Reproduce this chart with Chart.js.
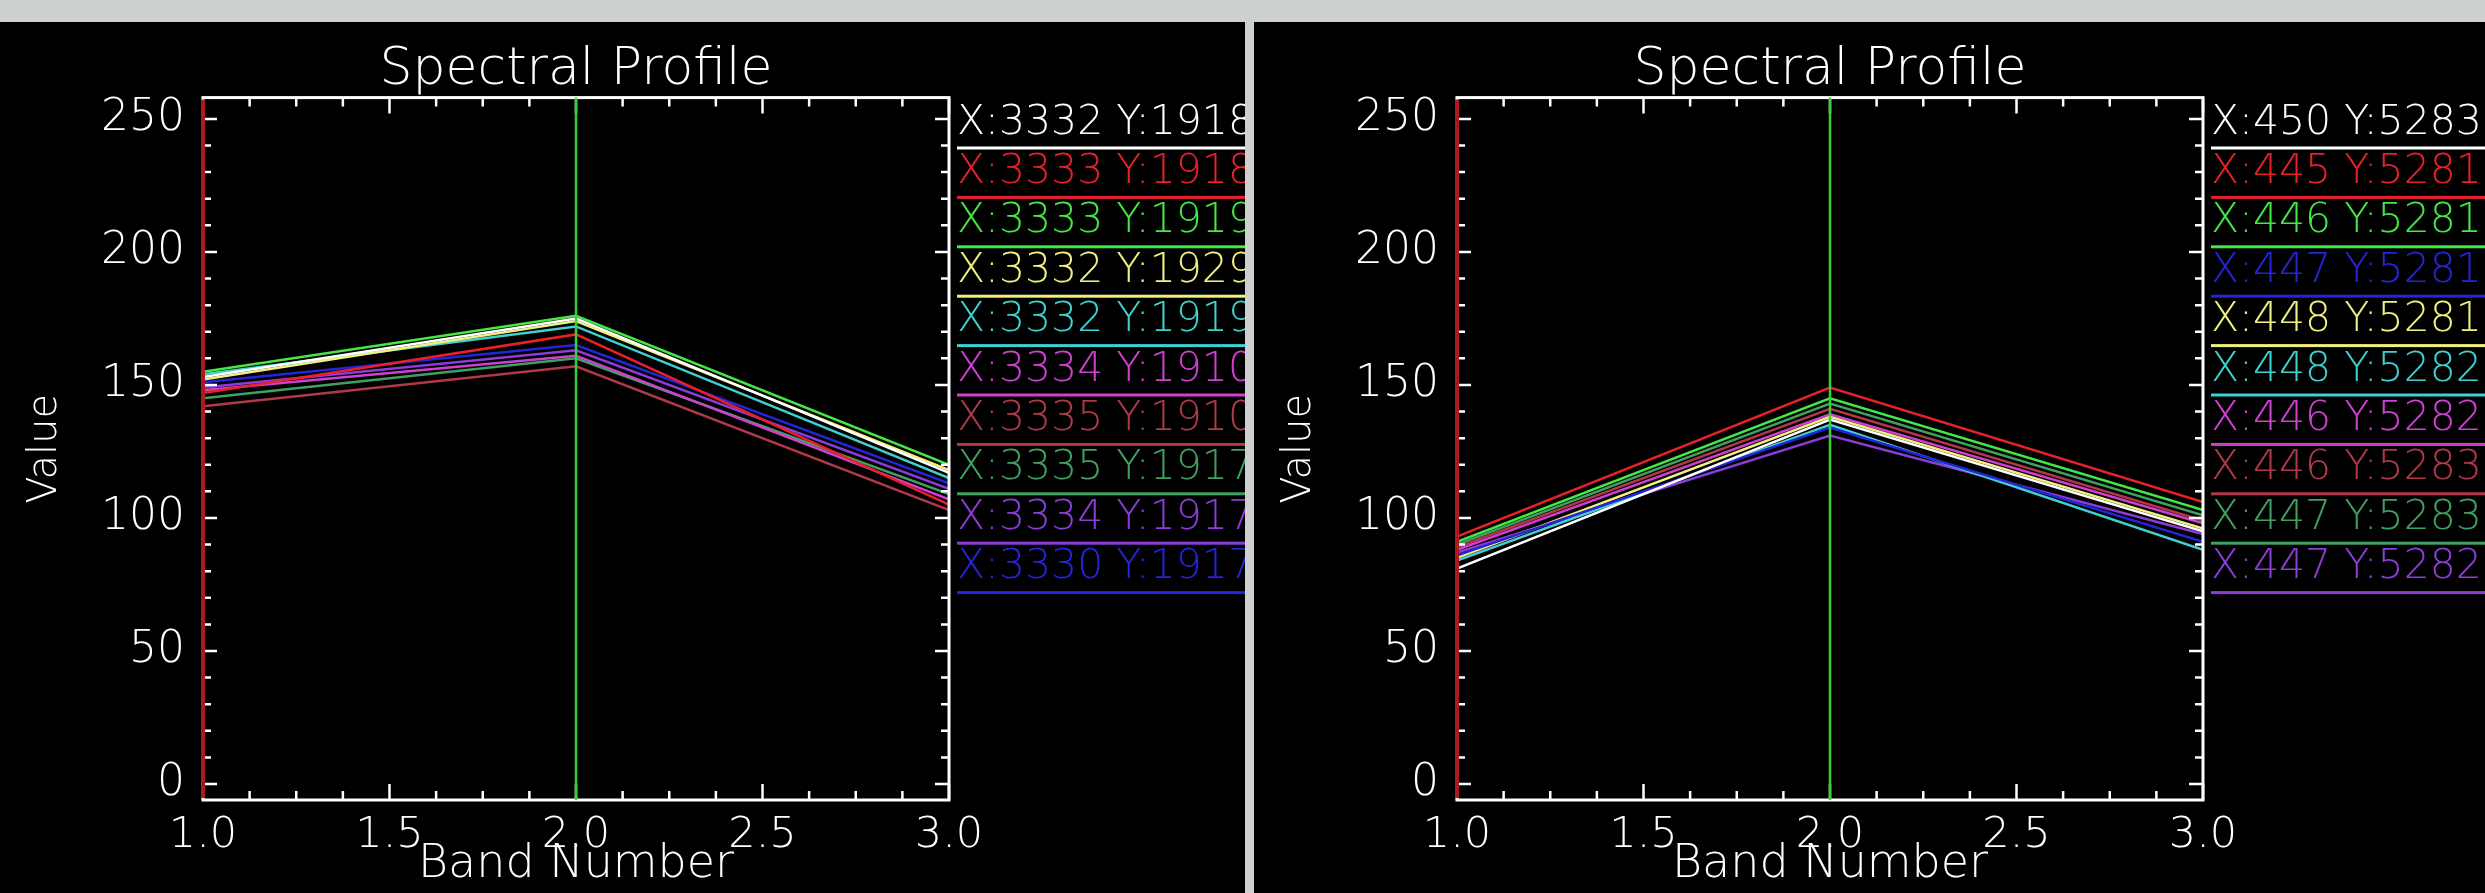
<!DOCTYPE html>
<html>
<head>
<meta charset="utf-8">
<script src="https://cdn.jsdelivr.net/npm/chart.js@4.4.1/dist/chart.umd.min.js"></script>
<style>
  html, body { margin: 0; padding: 0; background: #cdd0d0; width: 2485px; height: 893px; overflow: hidden; }
  .panel { position: absolute; top: 22px; height: 871px; background: #000; overflow: hidden; }
  #p1 { left: 0; width: 1245px; }
  #p2 { left: 1254px; width: 1231px; }
  canvas { display: block; }
</style>
</head>
<body>
<div class="panel" id="p1"><canvas id="c1" width="1245" height="871"></canvas></div>
<div class="panel" id="p2"><canvas id="c2" width="1245" height="871"></canvas></div>

<script>
// band numbers on the x axis
const bands = [1, 2, 3];
const xTickLabels = [1.0, 1.5, 2.0, 2.5, 3.0];
const yTickLabels = [0, 50, 100, 150, 200, 250];

// left window
const leftLabels = ['X:3332 Y:1918', 'X:3333 Y:1918', 'X:3333 Y:1919', 'X:3332 Y:1929', 'X:3332 Y:1919',
                    'X:3334 Y:1910', 'X:3335 Y:1910', 'X:3335 Y:1917', 'X:3334 Y:1917', 'X:3330 Y:1917'];
const leftColors = ['#ffffff', '#e8202a', '#44e844', '#f0f080', '#40d0d0',
                    '#d040d0', '#b03848', '#40a060', '#8c3cd8', '#2424d8'];
const leftBand1 = [153, 147, 155, 152, 154, 148, 142, 145, 149, 151];
const leftBand2 = [175, 169, 176, 174, 172, 161, 157, 160, 163, 165];
const leftBand3 = [117, 105, 120, 118, 115, 107, 103, 109, 111, 113];

// right window
const rightLabels = ['X:450 Y:5283', 'X:445 Y:5281', 'X:446 Y:5281', 'X:447 Y:5281', 'X:448 Y:5281',
                     'X:448 Y:5282', 'X:446 Y:5282', 'X:446 Y:5283', 'X:447 Y:5283', 'X:447 Y:5282'];
const rightColors = ['#ffffff', '#e8202a', '#44e844', '#2424d8', '#f0f080',
                     '#40d0d0', '#d040d0', '#b03848', '#40a060', '#8c3cd8'];
const rightBand1 = [81, 93, 91, 86, 85, 84, 88, 89, 90, 87];
const rightBand2 = [137, 149, 145, 134, 138, 135, 139, 141, 143, 131];
const rightBand3 = [95, 106, 103, 91, 96, 88, 98, 99, 101, 94];

const FONT = '"DejaVu Sans", sans-serif';

// box, inward ticks and the red / green band markers
const framePlugin = {
  id: 'frame',
  afterDatasetsDraw(chart) {
    const ctx = chart.ctx;
    const a = chart.chartArea;
    const xs = chart.scales.x, ys = chart.scales.y;
    ctx.save();
    ctx.strokeStyle = '#ffffff';
    ctx.lineWidth = 3;
    ctx.strokeRect(a.left, a.top, a.right - a.left, a.bottom - a.top);

    ctx.lineWidth = 2.5;
    for (let v = 0; v <= 250; v += 10) {
      const y = ys.getPixelForValue(v);
      const len = v % 50 === 0 ? 14 : 8;
      ctx.beginPath();
      ctx.moveTo(a.left, y); ctx.lineTo(a.left + len, y);
      ctx.moveTo(a.right, y); ctx.lineTo(a.right - len, y);
      ctx.stroke();
    }
    for (let i = 0; i <= 16; i++) {
      const x = xs.getPixelForValue(1 + i * 0.125);
      const len = i % 4 === 0 ? 16 : 9;
      ctx.beginPath();
      ctx.moveTo(x, a.bottom); ctx.lineTo(x, a.bottom - len);
      ctx.moveTo(x, a.top); ctx.lineTo(x, a.top + len);
      ctx.stroke();
    }

    // band markers
    ctx.lineWidth = 4;
    ctx.strokeStyle = '#b01820';
    let x1 = xs.getPixelForValue(1);
    ctx.beginPath(); ctx.moveTo(x1, a.top + 2); ctx.lineTo(x1, a.bottom - 2); ctx.stroke();
    ctx.lineWidth = 2.5;
    ctx.strokeStyle = '#38d038';
    let x2 = xs.getPixelForValue(2);
    ctx.beginPath(); ctx.moveTo(x2, a.top); ctx.lineTo(x2, a.bottom); ctx.stroke();
    ctx.restore();
  }
};

// legend: coloured label with a line under it, to the right of the plot
const sideLegend = {
  id: 'sideLegend',
  afterDraw(chart) {
    const ctx = chart.ctx;
    const x0 = chart.chartArea.right + 8;
    ctx.save();
    ctx.font = '200 41px ' + FONT;
    ctx.textBaseline = 'middle';
    chart.data.datasets.forEach((ds, i) => {
      const yText = 101 + i * 49.4;
      ctx.fillStyle = ds.borderColor;
      ctx.fillText(ds.label, x0, yText);
      ctx.fillRect(x0, yText + 23.5, 400, 3);
    });
    ctx.restore();
  }
};

function makeChart(id, labels, colors, b1, b2, b3) {
  const datasets = labels.map((name, i) => ({
    label: name,
    data: [b1[i], b2[i], b3[i]].map((v, j) => ({ x: bands[j], y: v })),
    borderColor: colors[i],
    borderWidth: 2.5,
    pointRadius: 0,
    tension: 0
  }));

  return new Chart(document.getElementById(id), {
    type: 'line',
    data: { datasets: datasets },
    options: {
      responsive: false,
      animation: false,
      layout: { padding: { left: 0, right: 296, top: 0, bottom: 0 } },
      plugins: {
        legend: { display: false },
        tooltip: { enabled: false },
        title: {
          display: true,
          text: 'Spectral Profile',
          color: '#ffffff',
          fullSize: false,
          font: { family: FONT, size: 52, weight: 200, lineHeight: 1.05 },
          padding: { top: 21, bottom: 0 }
        }
      },
      scales: {
        x: {
          type: 'linear',
          min: 1, max: 3,
          afterBuildTicks: s => { s.ticks = xTickLabels.map(v => ({ value: v })); },
          afterFit: s => { s.height = 93; },
          grid: { display: false, drawTicks: false },
          border: { display: false },
          ticks: {
            color: '#ffffff',
            padding: 10,
            maxRotation: 0,
            font: { family: FONT, size: 43, weight: 200 },
            callback: v => Number(v).toFixed(1)
          },
          title: {
            display: true,
            text: 'Band Number',
            color: '#ffffff',
            font: { family: FONT, size: 46, weight: 200 },
            padding: { top: 0, bottom: 0 }
          }
        },
        y: {
          min: -6, max: 258,
          afterBuildTicks: s => { s.ticks = yTickLabels.map(v => ({ value: v })); },
          afterFit: s => { s.width = 203; },
          grid: { display: false, drawTicks: false },
          border: { display: false },
          ticks: {
            color: '#ffffff',
            padding: 18,
            font: { family: FONT, size: 44, weight: 200 }
          },
          title: {
            display: true,
            text: 'Value',
            color: '#ffffff',
            font: { family: FONT, size: 40, weight: 200 },
            padding: { top: 22, bottom: 0 }
          }
        }
      }
    },
    plugins: [framePlugin, sideLegend]
  });
}

makeChart('c1', leftLabels, leftColors, leftBand1, leftBand2, leftBand3);
makeChart('c2', rightLabels, rightColors, rightBand1, rightBand2, rightBand3);
</script>
</body>
</html>
